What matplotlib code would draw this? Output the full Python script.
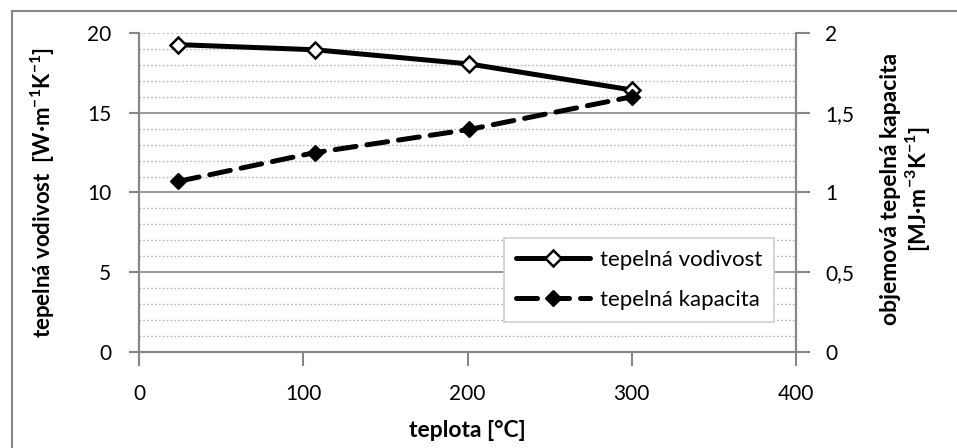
import matplotlib
matplotlib.use("Agg")
import matplotlib.pyplot as plt
from matplotlib.lines import Line2D
from matplotlib.ticker import MultipleLocator, FuncFormatter

plt.rcParams["font.family"] = ["Lato", "DejaVu Sans"]
plt.rcParams["mathtext.fontset"] = "custom"
plt.rcParams["mathtext.rm"] = "Lato"
plt.rcParams["mathtext.bf"] = "Lato:bold"

# temperature [°C]
teplota = [24, 107, 201, 300]
# thermal conductivity [W·m-1K-1]
vodivost = [19.27, 18.95, 18.06, 16.43]
# volumetric heat capacity [MJ·m-3K-1]
kapacita = [1.07, 1.25, 1.395, 1.60]

x_ticks = [0, 100, 200, 300, 400]
left_ticks = [0, 5, 10, 15, 20]
right_ticks = [0, 0.5, 1, 1.5, 2]

GRAY = "#868686"
MINOR = "#b5b5b5"
FS = 15
LFS = 16.5

fig = plt.figure(figsize=(9.57, 4.48), dpi=100)
ax = fig.add_axes([139 / 957, 1 - 352 / 448, (796 - 139) / 957, (352 - 33) / 448])
ax2 = ax.twinx()

ax.set_xlim(0, 400)
ax.set_ylim(0, 20)
ax2.set_ylim(0, 2)
ax.set_xticks(x_ticks)
ax.set_yticks(left_ticks)
ax2.set_yticks(right_ticks)
ax2.yaxis.set_major_formatter(FuncFormatter(lambda v, p: ("%g" % v).replace(".", ",")))

# gridlines: dotted every unit, solid every 5
ax.yaxis.set_minor_locator(MultipleLocator(1))
ax.grid(which="minor", axis="y", color=MINOR, linestyle=(0, (1.2, 1.6)), linewidth=1.0)
ax.grid(which="major", axis="y", color=GRAY, linestyle="-", linewidth=1.2)
ax.get_ygridlines()[-1].set_linestyle((0, (1.2, 1.6)))
ax.get_ygridlines()[-1].set_color(MINOR)
ax.set_axisbelow(True)
ax.tick_params(axis="y", which="minor", length=0)

for a in (ax, ax2):
    a.spines["top"].set_visible(False)
    for side in ("left", "right", "bottom"):
        a.spines[side].set_color(GRAY)
        a.spines[side].set_linewidth(1.5)

ax.tick_params(axis="x", length=10, width=1.5, color=GRAY, pad=13, labelsize=FS)
ax.tick_params(axis="y", which="major", length=7, width=1.5, color=GRAY, pad=13, labelsize=FS)
ax2.tick_params(axis="y", length=10, width=1.5, color=GRAY, pad=11, labelsize=FS)

l1, = ax.plot(teplota, vodivost, color="black", linewidth=3.6, marker="D",
              markersize=8.5, markerfacecolor="white", markeredgecolor="black",
              markeredgewidth=1.8, solid_capstyle="round", zorder=5,
              label="tepelná vodivost")
l2, = ax2.plot(teplota, kapacita, color="black", linewidth=3.6, linestyle=(0, (4.2, 2.2)),
               dash_capstyle="round", marker="D", markersize=8.5,
               markerfacecolor="black", markeredgecolor="black", zorder=5,
               label="tepelná kapacita")

ax.set_xlabel("teplota [°C]", fontsize=LFS, fontweight="bold")
ax.xaxis.set_label_coords(0.5, (352 - 430) / 319)
ax.xaxis.label.set_va("center")

ax.set_ylabel(r"tepelná vodivost  [W·m$^{\mathbf{-1}}$K$^{\mathbf{-1}}$]",
              fontsize=LFS - 0.5, fontweight="bold")
ax.yaxis.set_label_coords((43 - 139) / 657, 0.5)
ax.yaxis.label.set_va("center")

ax2.set_ylabel("objemová tepelná kapacita\n" + r"[MJ·m$^{\mathbf{-3}}$K$^{\mathbf{-1}}$]",
               fontsize=LFS, fontweight="bold", linespacing=1.05, rotation=90)
ax2.yaxis.set_label_coords((906 - 139) / 657, 0.51)
ax2.yaxis.label.set_va("center")
ax2.yaxis.label.set_ha("center")

leg = ax2.legend(handles=[l1, l2], loc="upper left",
                 bbox_to_anchor=(504 / 957, 1 - 238 / 448),
                 bbox_transform=fig.transFigure, fontsize=16, frameon=True,
                 fancybox=False, edgecolor="#d0d0d0", framealpha=1,
                 handlelength=3.3, handletextpad=0.45, borderpad=0.55,
                 labelspacing=0.9, borderaxespad=0)
leg.get_frame().set_linewidth(1.2)

# outer chart-area frame
fig.add_artist(Line2D([12 / 957, 12 / 957], [0, 1 - 11 / 448], transform=fig.transFigure,
                      color=GRAY, linewidth=1.5))
fig.add_artist(Line2D([12 / 957, 1], [1 - 11 / 448, 1 - 11 / 448], transform=fig.transFigure,
                      color=GRAY, linewidth=1.5))

fig.savefig("out.png", dpi=100)
